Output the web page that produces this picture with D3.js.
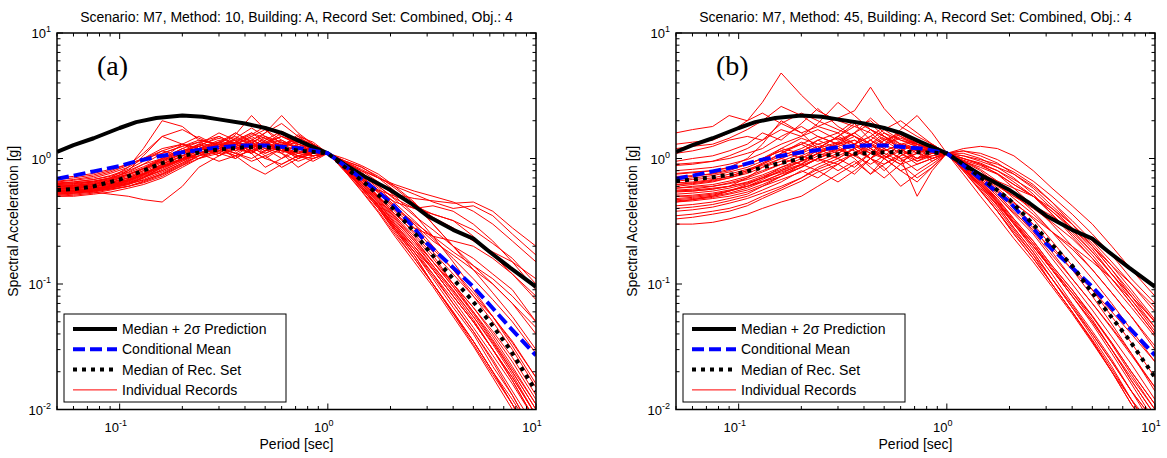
<!DOCTYPE html>
<html>
<head>
<meta charset="utf-8">
<script src="https://cdn.jsdelivr.net/npm/d3@7"></script>
<style>
  html, body { margin: 0; padding: 0; background: #fff; }
  svg { display: block; }
  text { font-family: "Liberation Sans", Arial, Helvetica, sans-serif; fill: #000; }
</style>
</head>
<body>
<svg id="chart" width="1167" height="458"></svg>
<script>
// Target spectrum periods [sec]
const periodsTarget = [0.05, 0.06, 0.075, 0.1, 0.12, 0.15, 0.2, 0.25, 0.3, 0.4, 0.5, 0.6, 0.75,
  1.0, 1.2, 1.5, 2.0, 2.5, 3.0, 4.0, 5.0, 6.0, 7.5, 10];

// Median + 2 sigma prediction [g]
const medianPlus2Sigma = [1.13, 1.28, 1.45, 1.75, 1.95, 2.1, 2.2, 2.15, 2.05, 1.9, 1.75, 1.6, 1.35,
  1.1, 0.9, 0.72, 0.56, 0.44, 0.35, 0.27, 0.23, 0.18, 0.135, 0.095];

// Conditional mean spectrum [g]
const conditionalMean = [0.69, 0.73, 0.79, 0.87, 0.95, 1.03, 1.12, 1.18, 1.23, 1.27, 1.27, 1.24, 1.2,
  1.1, 0.88, 0.66, 0.45, 0.3, 0.21, 0.135, 0.095, 0.068, 0.045, 0.027];

// Median of each selected record set [g]
const medianSetA = [0.56, 0.57, 0.6, 0.68, 0.76, 0.88, 1.05, 1.13, 1.18, 1.23, 1.23, 1.2, 1.15,
  1.1, 0.86, 0.64, 0.42, 0.28, 0.19, 0.11, 0.072, 0.05, 0.03, 0.014];
const medianSetB = [0.66, 0.68, 0.71, 0.76, 0.82, 0.9, 1.0, 1.05, 1.08, 1.1, 1.12, 1.13, 1.12,
  1.1, 0.9, 0.68, 0.47, 0.32, 0.23, 0.14, 0.085, 0.058, 0.036, 0.018];

// Periods at which the individual record spectra are listed [sec]
const periodsRecords = [0.05, 0.06, 0.075, 0.09, 0.11, 0.13, 0.16, 0.2, 0.24, 0.3, 0.36, 0.43, 0.5, 0.6,
  0.72, 0.85, 1.0, 1.2, 1.45, 1.75, 2.1, 2.6, 3.2, 4.0, 5.0, 6.2, 7.7, 10];

// Scaled record spectra, Method 10 [g]
const recordsA = [
  [0.58,0.59,0.62,0.66,0.74,0.82,0.95,1.1,1.2,1.3,1.15,1.4,1.25,1.35,1.2,1.05,1.1,0.85,0.7,0.5,0.38,0.25,0.17,0.1,0.065,0.04,0.024,0.012],
  [0.52,0.53,0.55,0.58,0.62,0.7,0.85,1.0,1.05,1.25,1.4,1.1,1.3,1.5,1.3,1.2,1.1,0.9,0.62,0.45,0.3,0.2,0.13,0.08,0.05,0.03,0.018,0.009],
  [0.62,0.63,0.66,0.7,0.78,0.9,1.0,1.15,1.3,1.1,1.35,1.6,1.45,1.2,1.1,1.25,1.1,0.95,0.78,0.6,0.47,0.35,0.27,0.2,0.16,0.12,0.09,0.05],
  [0.55,0.56,0.58,0.6,0.65,0.72,0.8,0.95,1.1,1.2,1.3,1.5,1.7,1.3,1.4,1.15,1.1,0.8,0.6,0.42,0.28,0.18,0.11,0.065,0.04,0.022,0.013,0.006],
  [0.65,0.67,0.7,0.76,0.85,1.0,1.2,1.3,1.2,1.4,1.25,1.1,1.3,1.15,1.05,1.0,1.1,0.9,0.7,0.55,0.45,0.4,0.42,0.38,0.3,0.22,0.15,0.09],
  [0.5,0.5,0.52,0.54,0.58,0.62,0.7,0.85,1.0,1.15,1.05,1.3,1.1,1.25,1.45,1.2,1.1,0.82,0.58,0.4,0.27,0.17,0.1,0.06,0.035,0.02,0.011,0.005],
  [0.6,0.61,0.63,0.68,0.8,1.05,1.5,1.3,1.1,1.2,1.45,1.3,1.2,1.1,1.3,1.2,1.1,0.88,0.68,0.5,0.36,0.26,0.18,0.12,0.08,0.055,0.035,0.018],
  [0.57,0.58,0.6,0.62,0.66,0.75,0.88,1.0,1.15,1.35,1.5,1.3,1.6,1.9,1.5,1.25,1.1,0.86,0.64,0.46,0.32,0.22,0.15,0.095,0.06,0.038,0.022,0.011],
  [0.53,0.54,0.56,0.6,0.68,0.76,0.9,1.05,1.0,1.2,1.1,0.95,1.05,1.2,1.0,1.15,1.1,0.95,0.8,0.65,0.5,0.36,0.24,0.15,0.09,0.055,0.032,0.016],
  [0.68,0.7,0.74,0.8,0.9,1.0,1.1,1.25,1.4,1.3,1.2,1.35,1.5,1.25,1.1,1.05,1.1,0.92,0.75,0.62,0.52,0.48,0.46,0.44,0.45,0.38,0.28,0.2],
  [0.56,0.56,0.57,0.59,0.63,0.67,0.75,0.9,1.05,1.15,1.3,1.45,1.2,1.35,1.25,1.15,1.1,0.84,0.6,0.42,0.28,0.19,0.13,0.08,0.05,0.03,0.017,0.008],
  [0.59,0.6,0.62,0.66,0.72,0.8,0.95,1.15,1.25,1.05,1.25,1.1,0.85,1.0,1.25,1.05,1.1,0.9,0.72,0.55,0.4,0.3,0.22,0.17,0.13,0.1,0.07,0.04],
  [0.54,0.55,0.57,0.6,0.64,0.7,0.82,0.98,1.1,1.25,1.45,1.75,1.5,1.35,1.2,1.3,1.1,0.8,0.56,0.38,0.25,0.16,0.1,0.058,0.035,0.02,0.012,0.006],
  [0.61,0.62,0.65,0.7,0.85,1.2,2.0,1.8,1.4,1.3,1.2,1.25,1.3,1.15,1.1,1.2,1.1,0.87,0.66,0.48,0.34,0.23,0.15,0.1,0.065,0.042,0.026,0.013],
  [0.51,0.52,0.54,0.57,0.6,0.64,0.72,0.88,1.05,1.3,1.2,1.4,1.6,2.2,1.6,1.3,1.1,0.83,0.6,0.43,0.29,0.19,0.12,0.075,0.045,0.027,0.016,0.008],
  [0.63,0.64,0.66,0.7,0.77,0.86,1.0,1.2,1.35,1.5,1.3,1.15,1.0,0.9,1.05,0.95,1.1,1.0,0.88,0.75,0.6,0.45,0.3,0.2,0.13,0.085,0.055,0.03],
  [0.58,0.59,0.61,0.64,0.7,0.78,0.93,1.1,1.2,1.15,1.35,1.55,1.8,1.5,1.35,1.2,1.1,0.85,0.62,0.44,0.3,0.2,0.13,0.08,0.05,0.03,0.018,0.009],
  [0.55,0.56,0.58,0.61,0.67,0.75,0.9,1.1,1.3,1.6,1.4,1.2,1.35,1.1,0.95,1.05,1.1,0.92,0.74,0.58,0.44,0.32,0.23,0.16,0.11,0.075,0.05,0.028],
  [0.66,0.68,0.72,0.78,0.88,1.1,1.5,1.7,1.45,1.25,1.1,1.3,1.15,1.3,1.45,1.3,1.1,0.86,0.64,0.47,0.33,0.22,0.14,0.088,0.055,0.034,0.02,0.01],
  [0.52,0.53,0.55,0.58,0.63,0.7,0.8,0.95,1.1,1.2,1.55,2.2,1.7,1.4,1.2,1.1,1.1,0.82,0.58,0.4,0.27,0.18,0.12,0.07,0.042,0.025,0.014,0.007],
  [0.6,0.61,0.63,0.67,0.74,0.83,0.98,1.15,1.25,1.35,1.25,1.4,1.25,1.15,1.25,1.15,1.1,0.95,0.82,0.7,0.6,0.52,0.45,0.4,0.42,0.35,0.25,0.17],
  [0.57,0.58,0.6,0.63,0.68,0.75,0.86,1.0,1.1,0.95,1.05,0.85,0.75,0.9,1.05,1.15,1.1,0.9,0.72,0.56,0.42,0.3,0.2,0.13,0.08,0.05,0.03,0.015],
  [0.54,0.55,0.56,0.59,0.64,0.71,0.85,1.0,1.15,1.3,1.15,1.25,1.45,1.25,1.55,1.3,1.1,0.84,0.6,0.42,0.29,0.2,0.135,0.085,0.052,0.03,0.017,0.008],
  [0.7,0.72,0.76,0.82,0.9,1.0,1.15,1.3,1.2,1.1,1.3,1.2,1.35,1.2,1.05,1.0,1.1,0.96,0.85,0.72,0.58,0.44,0.34,0.28,0.22,0.18,0.15,0.11],
  [0.56,0.57,0.59,0.62,0.67,0.74,0.87,1.05,1.2,1.35,1.6,1.35,1.2,1.0,1.15,1.05,1.1,0.88,0.68,0.5,0.35,0.24,0.16,0.1,0.06,0.036,0.021,0.011],
  [0.5,0.51,0.53,0.56,0.6,0.66,0.76,0.92,1.05,1.15,1.25,1.1,1.4,1.65,1.4,1.25,1.1,0.8,0.55,0.37,0.24,0.15,0.095,0.055,0.032,0.018,0.01,0.005],
  [0.64,0.65,0.68,0.72,0.8,0.9,1.1,1.25,1.35,1.2,1.05,1.15,1.3,1.4,1.2,1.1,1.1,0.9,0.7,0.53,0.39,0.28,0.19,0.13,0.085,0.055,0.034,0.018],
  [0.58,0.58,0.6,0.63,0.68,0.76,0.9,1.05,1.15,1.3,1.4,1.6,1.35,1.5,1.3,1.15,1.1,0.87,0.66,0.49,0.36,0.28,0.24,0.22,0.2,0.16,0.12,0.075],
  [0.53,0.54,0.56,0.58,0.62,0.68,0.78,0.92,1.1,1.25,1.35,1.2,1.1,1.25,1.35,1.25,1.1,0.83,0.6,0.42,0.28,0.18,0.115,0.07,0.042,0.024,0.013,0.006],
  [0.62,0.63,0.65,0.69,0.75,0.83,0.97,1.12,1.28,1.45,1.3,1.5,1.3,1.6,1.25,1.15,1.1,0.89,0.7,0.54,0.41,0.31,0.24,0.18,0.14,0.11,0.08,0.05],
  [0.55,0.55,0.54,0.52,0.5,0.47,0.45,0.6,0.85,1.05,1.2,1.1,1.3,1.2,1.0,1.1,1.1,0.86,0.65,0.48,0.34,0.23,0.15,0.095,0.058,0.035,0.02,0.01],
  [0.6,0.6,0.62,0.65,0.7,0.76,0.85,0.98,1.1,1.2,1.1,1.0,1.15,1.3,1.15,1.05,1.1,0.9,0.74,0.6,0.48,0.4,0.36,0.32,0.27,0.21,0.16,0.1],
  [0.57,0.58,0.6,0.64,0.7,0.8,1.0,1.3,1.5,1.25,1.0,1.2,1.4,1.1,0.85,1.0,1.1,0.92,0.8,0.7,0.62,0.55,0.5,0.45,0.38,0.3,0.22,0.15],
  [0.54,0.55,0.57,0.6,0.66,0.74,0.86,1.0,1.25,1.05,1.3,1.15,1.0,1.2,1.5,1.35,1.1,0.82,0.58,0.4,0.26,0.16,0.1,0.058,0.033,0.019,0.011,0.006],
  [0.6,0.61,0.64,0.68,0.75,0.84,1.0,1.2,1.1,1.3,1.6,1.35,1.15,1.25,1.05,1.1,1.1,0.88,0.7,0.56,0.5,0.44,0.3,0.2,0.14,0.1,0.07,0.045],
  [0.52,0.53,0.55,0.57,0.6,0.65,0.74,0.88,1.0,1.1,1.0,1.2,1.5,1.25,1.1,1.2,1.1,0.86,0.62,0.45,0.31,0.21,0.14,0.09,0.055,0.033,0.019,0.009],
  [0.63,0.65,0.68,0.73,0.82,0.95,1.15,1.05,1.25,1.5,1.3,1.15,1.3,1.2,1.4,1.15,1.1,0.96,0.86,0.7,0.55,0.42,0.36,0.32,0.24,0.17,0.12,0.08],
  [0.55,0.56,0.58,0.61,0.66,0.73,0.84,0.97,1.1,1.2,1.35,1.25,1.05,0.85,1.0,1.1,1.1,0.84,0.6,0.41,0.27,0.17,0.1,0.06,0.035,0.02,0.011,0.005]
];

// Scaled record spectra, Method 45 [g]
const recordsB = [
  [0.45,0.47,0.5,0.55,0.62,0.7,0.85,0.95,1.1,1.3,1.5,1.2,1.0,1.3,1.15,0.95,1.1,0.95,0.75,0.55,0.4,0.28,0.18,0.11,0.07,0.045,0.028,0.015],
  [1.6,1.7,1.8,2.2,2.0,2.8,4.8,3.2,2.4,2.0,1.8,2.0,1.6,1.4,1.3,1.2,1.1,0.85,0.62,0.45,0.3,0.2,0.13,0.08,0.05,0.03,0.018,0.01],
  [0.3,0.3,0.31,0.33,0.36,0.4,0.45,0.5,0.6,0.75,0.9,1.1,1.0,0.8,0.9,1.0,1.1,1.0,0.9,0.75,0.58,0.42,0.3,0.2,0.13,0.085,0.055,0.032],
  [0.75,0.77,0.8,0.85,1.0,1.3,2.0,1.6,1.2,1.5,1.9,1.4,1.2,1.6,1.3,1.15,1.1,0.82,0.58,0.4,0.27,0.17,0.1,0.06,0.035,0.02,0.012,0.007],
  [0.55,0.55,0.57,0.6,0.7,0.85,1.0,0.9,1.2,1.0,0.85,1.1,1.4,1.15,1.0,1.25,1.1,1.05,0.95,0.85,0.75,0.6,0.45,0.32,0.22,0.15,0.1,0.06],
  [1.1,1.15,1.25,1.4,1.5,1.4,1.9,2.3,2.0,1.7,1.5,1.3,1.6,1.3,1.1,1.2,1.1,0.8,0.55,0.38,0.26,0.17,0.11,0.065,0.04,0.024,0.014,0.008],
  [0.5,0.51,0.53,0.56,0.6,0.66,0.75,0.85,1.0,1.2,1.0,0.75,0.9,1.1,0.95,1.05,1.1,1.2,1.25,1.2,1.05,0.8,0.58,0.42,0.3,0.2,0.13,0.08],
  [0.68,0.7,0.73,0.78,0.85,0.95,1.2,1.1,1.4,1.6,1.3,1.7,1.5,1.25,1.4,1.2,1.1,0.88,0.64,0.46,0.32,0.21,0.13,0.08,0.05,0.03,0.017,0.009],
  [0.4,0.41,0.43,0.46,0.5,0.56,0.65,0.8,0.7,0.9,1.1,0.85,0.7,0.9,1.2,1.0,1.1,0.92,0.74,0.58,0.45,0.33,0.22,0.14,0.09,0.055,0.034,0.018],
  [0.9,0.92,0.95,1.0,1.1,1.2,1.5,1.8,1.5,1.3,1.6,2.1,1.7,1.4,1.25,1.15,1.1,0.85,0.6,0.43,0.3,0.19,0.12,0.07,0.042,0.025,0.014,0.007],
  [0.62,0.63,0.66,0.7,0.76,0.85,0.95,1.1,1.25,1.1,1.3,1.5,1.3,1.7,2.2,1.6,1.1,0.75,0.5,0.34,0.23,0.15,0.095,0.058,0.034,0.02,0.011,0.006],
  [0.35,0.36,0.38,0.4,0.44,0.5,0.58,0.7,0.85,1.0,1.2,1.0,1.3,1.1,0.9,1.0,1.1,1.05,0.98,0.9,0.78,0.62,0.45,0.3,0.2,0.13,0.08,0.045],
  [0.72,0.73,0.75,0.8,0.9,1.0,1.15,1.0,1.2,1.35,1.2,1.0,1.15,1.3,1.1,1.0,1.1,0.9,0.7,0.52,0.38,0.26,0.17,0.11,0.07,0.044,0.027,0.015],
  [0.48,0.49,0.51,0.55,0.6,0.68,0.8,0.95,1.1,1.25,1.4,1.2,1.05,0.9,1.0,1.15,1.1,0.84,0.62,0.44,0.3,0.2,0.13,0.085,0.055,0.034,0.02,0.011],
  [0.58,0.6,0.62,0.66,0.72,0.8,0.9,1.05,1.2,1.5,1.8,1.6,1.3,1.5,1.25,1.3,1.1,0.95,0.8,0.62,0.48,0.36,0.26,0.2,0.15,0.11,0.075,0.045],
  [1.3,1.35,1.4,1.6,2.0,2.3,1.9,1.6,1.8,2.1,2.4,3.7,2.5,1.8,1.5,1.3,1.1,0.82,0.6,0.42,0.28,0.18,0.11,0.068,0.04,0.024,0.014,0.008],
  [0.52,0.53,0.55,0.58,0.63,0.7,0.8,0.9,0.8,0.65,0.8,1.0,0.85,0.6,0.75,0.9,1.1,1.15,1.05,0.92,0.75,0.58,0.42,0.3,0.2,0.13,0.085,0.05],
  [0.66,0.68,0.7,0.75,0.82,0.9,1.05,1.2,1.4,1.2,1.05,1.25,1.45,1.2,1.0,1.05,1.1,0.87,0.68,0.5,0.36,0.25,0.16,0.1,0.062,0.038,0.023,0.012],
  [0.45,0.46,0.48,0.5,0.54,0.6,0.68,0.78,0.9,1.05,1.2,1.4,1.2,1.0,1.1,1.25,1.1,0.9,0.7,0.54,0.42,0.3,0.2,0.13,0.08,0.048,0.028,0.014],
  [0.8,0.82,0.85,0.9,0.98,1.1,1.3,1.5,1.7,1.4,1.6,1.3,1.15,1.3,1.4,1.2,1.1,0.9,0.72,0.56,0.44,0.34,0.26,0.19,0.13,0.085,0.055,0.03],
  [0.5,0.5,0.52,0.55,0.6,0.65,0.72,0.85,1.0,0.8,0.95,0.75,1.0,1.2,0.95,1.1,1.1,0.8,0.56,0.38,0.25,0.16,0.1,0.06,0.036,0.021,0.012,0.006],
  [0.7,0.72,0.76,0.82,0.9,1.0,1.2,1.45,1.3,1.15,1.3,1.5,1.8,1.5,1.3,1.2,1.1,0.97,0.88,0.76,0.62,0.5,0.38,0.27,0.18,0.12,0.08,0.05],
  [0.58,0.59,0.6,0.63,0.68,0.74,0.85,1.0,1.15,1.3,1.15,1.0,0.9,1.05,1.2,1.1,1.1,0.85,0.63,0.45,0.31,0.2,0.13,0.08,0.048,0.028,0.016,0.008],
  [0.42,0.43,0.45,0.48,0.52,0.6,0.72,0.9,1.1,1.35,1.6,1.9,1.5,1.2,1.35,1.2,1.1,0.88,0.67,0.5,0.37,0.27,0.19,0.13,0.09,0.06,0.04,0.024],
  [0.95,1.0,1.05,1.15,1.3,1.6,1.4,1.9,2.5,1.8,1.5,1.3,1.5,1.2,1.0,1.1,1.1,0.86,0.65,0.47,0.33,0.22,0.14,0.09,0.055,0.033,0.019,0.01],
  [0.55,0.56,0.58,0.6,0.64,0.7,0.78,0.88,1.0,1.15,1.3,1.15,1.0,0.8,0.65,0.85,1.1,1.1,1.0,0.85,0.7,0.52,0.36,0.24,0.16,0.1,0.065,0.038],
  [0.62,0.64,0.67,0.72,0.8,0.92,1.1,1.3,1.1,1.0,1.2,1.4,1.7,2.0,1.6,1.3,1.1,0.8,0.56,0.38,0.25,0.16,0.1,0.06,0.035,0.02,0.011,0.006],
  [0.47,0.48,0.5,0.53,0.58,0.65,0.76,0.9,1.05,1.2,1.05,0.9,1.05,1.3,1.15,1.2,1.1,0.92,0.76,0.62,0.5,0.4,0.31,0.23,0.16,0.11,0.07,0.04],
  [0.76,0.78,0.8,0.84,0.9,1.0,1.15,1.3,1.5,1.3,1.4,1.2,1.0,1.15,1.3,1.15,1.1,0.88,0.66,0.48,0.33,0.22,0.14,0.09,0.056,0.034,0.02,0.011],
  [0.38,0.39,0.41,0.44,0.48,0.53,0.6,0.7,0.82,0.95,1.1,1.3,1.1,0.95,1.1,1.2,1.1,0.96,0.82,0.66,0.52,0.38,0.26,0.17,0.11,0.07,0.043,0.024],
  [0.56,0.57,0.6,0.64,0.7,0.78,0.9,1.05,0.95,1.1,1.3,1.1,1.2,1.0,0.5,0.8,1.1,1.0,0.9,0.8,0.68,0.55,0.4,0.28,0.19,0.12,0.075,0.042],
  [0.64,0.65,0.68,0.72,0.8,0.88,1.0,1.15,1.3,1.45,1.25,1.1,1.3,1.45,1.3,1.15,1.1,0.84,0.62,0.45,0.31,0.21,0.135,0.085,0.052,0.03,0.017,0.009],
  [0.88,0.9,0.95,1.05,1.2,1.4,1.7,1.5,1.9,2.8,2.2,1.7,1.5,1.3,1.2,1.15,1.1,0.95,0.85,0.75,0.62,0.5,0.38,0.28,0.2,0.14,0.1,0.065],
  [0.33,0.34,0.36,0.38,0.42,0.48,0.56,0.66,0.78,0.9,0.75,1.0,1.2,1.0,0.8,0.95,1.1,1.15,1.1,0.98,0.82,0.66,0.5,0.36,0.25,0.17,0.11,0.07],
  [0.6,0.62,0.65,0.7,0.78,0.9,1.1,1.35,1.2,1.5,1.3,1.0,0.8,1.05,1.25,1.1,1.1,0.9,0.76,0.66,0.58,0.5,0.4,0.3,0.21,0.14,0.09,0.052],
  [0.46,0.47,0.49,0.52,0.56,0.62,0.72,0.85,1.0,0.9,1.1,1.3,1.05,0.9,0.7,0.85,1.1,0.85,0.6,0.42,0.28,0.18,0.11,0.065,0.038,0.022,0.012,0.006],
  [1.2,1.25,1.3,1.45,1.7,2.0,2.6,2.2,1.8,1.6,2.0,1.7,1.4,1.55,1.3,1.2,1.1,0.9,0.74,0.6,0.5,0.42,0.35,0.26,0.18,0.12,0.08,0.05],
  [0.54,0.55,0.57,0.6,0.65,0.72,0.82,0.95,1.1,1.25,1.05,1.2,1.4,1.6,1.35,1.15,1.1,1.0,0.92,0.8,0.65,0.5,0.36,0.25,0.17,0.11,0.07,0.04]
];

const panelTitles = [
  "Scenario: M7, Method: 10, Building: A, Record Set: Combined, Obj.: 4",
  "Scenario: M7, Method: 45, Building: A, Record Set: Combined, Obj.: 4"
];
const panelLetters = ["(a)", "(b)"];
const legendLabels = ["Median + 2\u03c3 Prediction", "Conditional Mean", "Median of Rec. Set", "Individual Records"];
const xDomain = [0.05, 10];
const yDomain = [0.01, 10];

const svg = d3.select("#chart");

const panels = [
  { left: 57, records: recordsA, median: medianSetA, legendLeft: 64 },
  { left: 676, records: recordsB, median: medianSetB, legendLeft: 683 }
];
const plotW = 479, plotTop = 33, plotBottom = 409.5;

const styles = {
  record: { stroke: "#ff0000", width: 1, dash: null },
  pred:   { stroke: "#000000", width: 4, dash: null },
  cms:    { stroke: "#0000ff", width: 4, dash: "12,5" },
  median: { stroke: "#000000", width: 4, dash: "4,5" }
};

function isDecade(v) {
  const l = Math.log10(v);
  return Math.abs(l - Math.round(l)) < 1e-9;
}

function powLabel(g, x, y, exp, anchor) {
  const t = g.append("text")
    .attr("x", x).attr("y", y)
    .attr("text-anchor", anchor)
    .style("font-size", "13px");
  t.append("tspan").text("10");
  t.append("tspan").attr("dy", -6).style("font-size", "9px").text(String(exp));
  return t;
}

panels.forEach((p, i) => {
  const x = d3.scaleLog().domain(xDomain).range([p.left, p.left + plotW]);
  const y = d3.scaleLog().domain(yDomain).range([plotBottom, plotTop]);
  const g = svg.append("g");

  const clipId = "clip" + i;
  svg.append("clipPath").attr("id", clipId)
    .append("rect")
    .attr("x", p.left).attr("y", plotTop)
    .attr("width", plotW).attr("height", plotBottom - plotTop);

  const line = d3.line().x(d => x(d[0])).y(d => y(d[1]));
  const plot = g.append("g").attr("clip-path", `url(#${clipId})`);

  // individual record spectra
  p.records.forEach(rec => {
    plot.append("path")
      .attr("d", line(periodsRecords.map((t, k) => [t, rec[k]])))
      .attr("fill", "none")
      .attr("stroke", styles.record.stroke)
      .attr("stroke-width", styles.record.width)
      .attr("stroke-linejoin", "round");
  });

  const drawSeries = (vals, st) => {
    plot.append("path")
      .attr("d", line(periodsTarget.map((t, k) => [t, vals[k]])))
      .attr("fill", "none")
      .attr("stroke", st.stroke)
      .attr("stroke-width", st.width)
      .attr("stroke-dasharray", st.dash)
      .attr("stroke-linejoin", "round");
  };
  drawSeries(medianPlus2Sigma, styles.pred);
  drawSeries(conditionalMean, styles.cms);
  drawSeries(p.median, styles.median);

  // axes box with inward ticks on all sides
  const axes = g.append("g").attr("stroke", "#000").attr("fill", "none");
  const xr = x.range(), yr = y.range();
  axes.append("rect")
    .attr("x", xr[0]).attr("y", yr[1])
    .attr("width", xr[1] - xr[0]).attr("height", yr[0] - yr[1])
    .attr("stroke-width", 1.5);

  x.ticks().forEach(t => {
    const len = isDecade(t) ? 6 : 3.5;
    const xp = x(t);
    axes.append("line").attr("x1", xp).attr("x2", xp).attr("y1", yr[0]).attr("y2", yr[0] - len).attr("stroke-width", 1);
    axes.append("line").attr("x1", xp).attr("x2", xp).attr("y1", yr[1]).attr("y2", yr[1] + len).attr("stroke-width", 1);
    if (isDecade(t)) powLabel(g, xp - 4, yr[0] + 22, Math.round(Math.log10(t)), "middle");
  });
  y.ticks().forEach(t => {
    const len = isDecade(t) ? 6 : 3.5;
    const yp = y(t);
    axes.append("line").attr("x1", xr[0]).attr("x2", xr[0] + len).attr("y1", yp).attr("y2", yp).attr("stroke-width", 1);
    axes.append("line").attr("x1", xr[1]).attr("x2", xr[1] - len).attr("y1", yp).attr("y2", yp).attr("stroke-width", 1);
    if (isDecade(t)) powLabel(g, xr[0] - 6, yp + 5, Math.round(Math.log10(t)), "end");
  });

  // titles
  const cx = (xr[0] + xr[1]) / 2;
  g.append("text").attr("x", cx).attr("y", 21.5).attr("text-anchor", "middle")
    .style("font-size", "14px").text(panelTitles[i]);
  g.append("text").attr("x", cx).attr("y", 449).attr("text-anchor", "middle")
    .style("font-size", "14px").text("Period [sec]");
  g.append("text")
    .attr("transform", `translate(${xr[0] - 39},${(yr[0] + yr[1]) / 2}) rotate(-90)`)
    .attr("text-anchor", "middle")
    .style("font-size", "14px").text("Spectral Acceleration [g]");
  g.append("text").attr("x", xr[0] + 40).attr("y", 74.5)
    .style("font-family", "'Liberation Serif', 'Times New Roman', serif")
    .style("font-size", "28px").text(panelLetters[i]);

  // legend
  const lg = g.append("g");
  const lx = p.legendLeft, ly = 314;
  lg.append("rect").attr("x", lx).attr("y", ly).attr("width", 222).attr("height", 88)
    .attr("fill", "#fff").attr("stroke", "#000").attr("stroke-width", 1);
  const keys = [styles.pred, styles.cms, styles.median, styles.record];
  keys.forEach((st, k) => {
    const yy = ly + 15 + k * 20.3;
    lg.append("line").attr("x1", lx + 9).attr("x2", lx + 53).attr("y1", yy).attr("y2", yy)
      .attr("stroke", st.stroke).attr("stroke-width", st.width).attr("stroke-dasharray", st.dash);
    lg.append("text").attr("x", lx + 58).attr("y", yy + 5)
      .style("font-size", "14px").text(legendLabels[k]);
  });
});
</script>
</body>
</html>
